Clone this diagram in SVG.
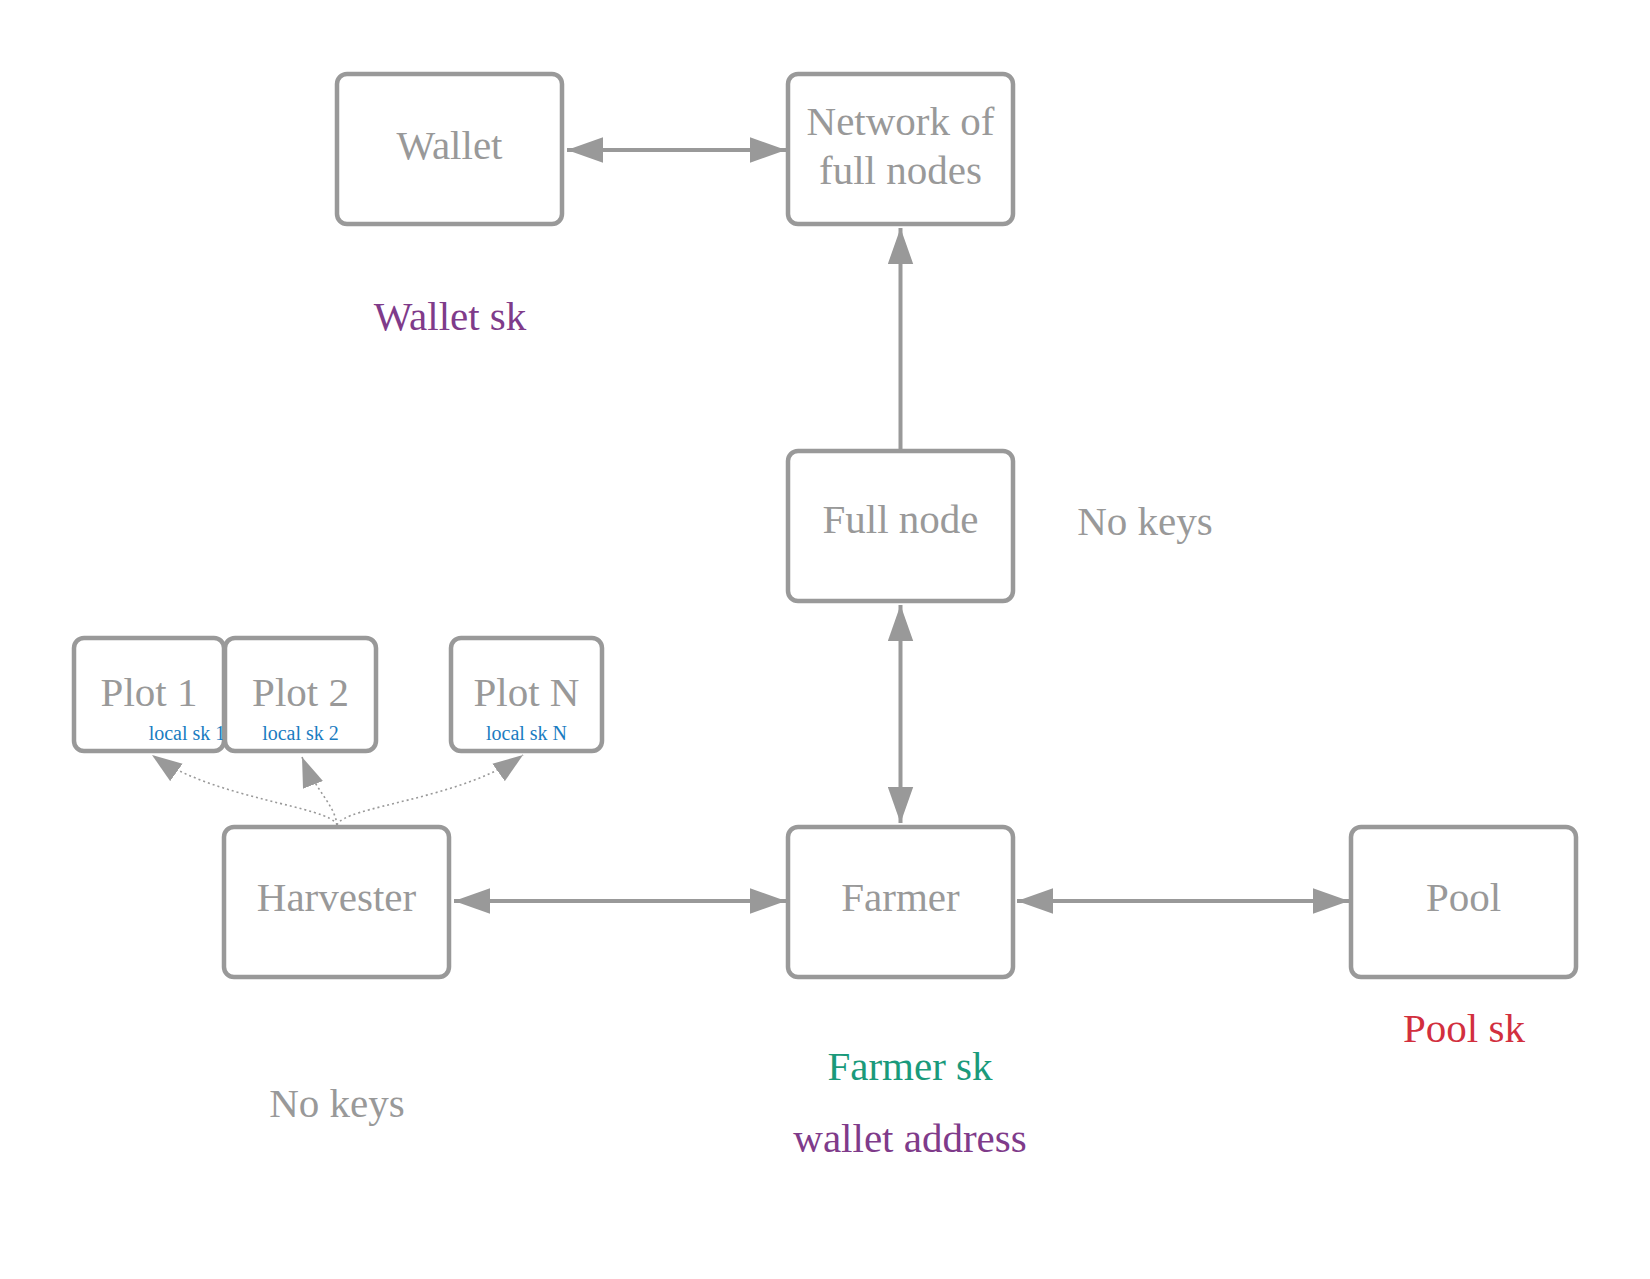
<svg xmlns="http://www.w3.org/2000/svg" width="1650" height="1279" viewBox="0 0 1650 1279">
<style>
.box{fill:#fff;stroke:#999;stroke-width:4.5}
.t{font-family:"Liberation Serif","Times New Roman",serif;font-size:41px;fill:#999;text-anchor:middle}
.s{font-family:"Liberation Serif","Times New Roman",serif;font-size:20px;fill:#1a7cc1;text-anchor:middle}
.line{fill:none;stroke:#999;stroke-width:4}
.dot{fill:none;stroke:#999;stroke-width:1.6;stroke-dasharray:2 3}
</style>
<defs>
<marker id="ah" markerUnits="userSpaceOnUse" markerWidth="36" markerHeight="26" viewBox="0 0 34 24" refX="34" refY="12" orient="auto-start-reverse">
<path d="M0,0 L34,12 L0,24 Z" fill="#999"/>
</marker>
<marker id="ahs" markerUnits="userSpaceOnUse" markerWidth="30" markerHeight="22" viewBox="0 0 28 20" refX="28" refY="10" orient="auto">
<path d="M0,0 L28,10 L0,20 Z" fill="#999"/>
</marker>
</defs>
<rect width="1650" height="1279" fill="#fff"/>
<g id="connectors">
<path class="line" d="M567,150 L786,150" marker-start="url(#ah)" marker-end="url(#ah)"/>
<path class="line" d="M900.5,449 L900.5,228" marker-end="url(#ah)"/>
<path class="line" d="M900.5,605 L900.5,823" marker-start="url(#ah)" marker-end="url(#ah)"/>
<path class="line" d="M454,901 L786,901" marker-start="url(#ah)" marker-end="url(#ah)"/>
<path class="line" d="M1017,901 L1349,901" marker-start="url(#ah)" marker-end="url(#ah)"/>
<path class="dot" d="M337,825 C330,806 215,800 152,755" marker-end="url(#ahs)"/>
<path class="dot" d="M337,825 C335,805 315,790 302,757" marker-end="url(#ahs)"/>
<path class="dot" d="M337,825 C344,806 460,800 523,755" marker-end="url(#ahs)"/>
</g>
<g id="wallet">
<rect class="box" x="337" y="74" width="225" height="150" rx="10"/>
<text class="t" x="449.5" y="159">Wallet</text>
</g>
<g id="network">
<rect class="box" x="788" y="74" width="225" height="150" rx="10"/>
<text class="t" x="900.5" y="135">Network of</text>
<text class="t" x="900.5" y="184">full nodes</text>
</g>
<g id="fullnode">
<rect class="box" x="788" y="451" width="225" height="150" rx="10"/>
<text class="t" x="900.5" y="533">Full node</text>
</g>
<g id="farmer">
<rect class="box" x="788" y="827" width="225" height="150" rx="10"/>
<text class="t" x="900.5" y="911">Farmer</text>
</g>
<g id="harvester">
<rect class="box" x="224" y="827" width="225" height="150" rx="10"/>
<text class="t" x="336.5" y="911">Harvester</text>
</g>
<g id="pool">
<rect class="box" x="1351" y="827" width="225" height="150" rx="10"/>
<text class="t" x="1463.5" y="911">Pool</text>
</g>
<g id="plot1">
<rect class="box" x="74" y="638" width="150" height="113" rx="10"/>
<text class="t" x="149" y="706">Plot 1</text>
<text class="s" x="187" y="740">local sk 1</text>
</g>
<g id="plot2">
<rect class="box" x="225" y="638" width="151" height="113" rx="10"/>
<text class="t" x="300.5" y="706">Plot 2</text>
<text class="s" x="300.5" y="740">local sk 2</text>
</g>
<g id="plotN">
<rect class="box" x="451" y="638" width="151" height="113" rx="10"/>
<text class="t" x="526.5" y="706">Plot N</text>
<text class="s" x="526.5" y="740">local sk N</text>
</g>
<g id="labels">
<text class="t" x="450" y="330" style="fill:#7f3b8a">Wallet sk</text>
<text class="t" x="1145" y="535">No keys</text>
<text class="t" x="337" y="1117">No keys</text>
<text class="t" x="910" y="1080" style="fill:#1a9a7b">Farmer sk</text>
<text class="t" x="910" y="1152" style="fill:#7f3b8a">wallet address</text>
<text class="t" x="1464" y="1042" style="fill:#d22f3e">Pool sk</text>
</g>
</svg>
